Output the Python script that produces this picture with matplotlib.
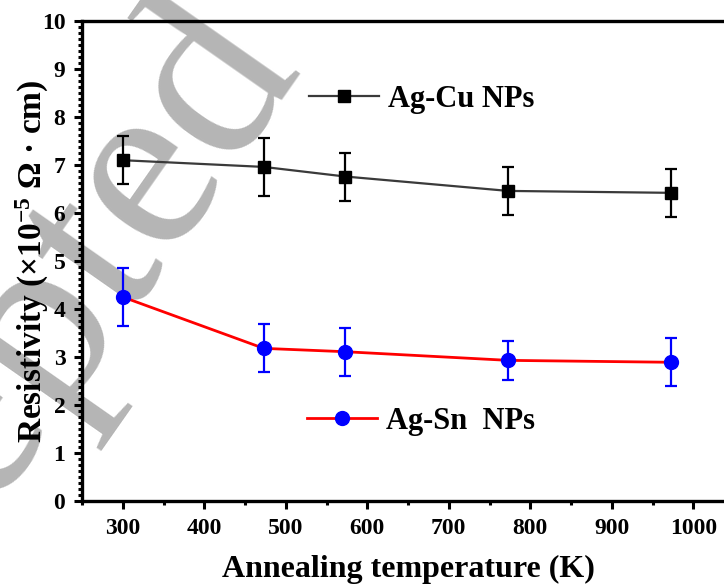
import matplotlib
matplotlib.use("Agg")
import matplotlib.pyplot as plt
from matplotlib.ticker import MultipleLocator, AutoMinorLocator
from matplotlib.lines import Line2D

plt.rcParams['font.family'] = ['Liberation Serif', 'DejaVu Serif']
plt.rcParams['font.weight'] = 'bold'
plt.rcParams['axes.labelweight'] = 'bold'
plt.rcParams['mathtext.fontset'] = 'custom'
plt.rcParams['mathtext.rm'] = 'Liberation Serif:bold'
plt.rcParams['mathtext.it'] = 'Liberation Serif:bold'
plt.rcParams['mathtext.bf'] = 'Liberation Serif:bold'
plt.rcParams['mathtext.default'] = 'rm'

################### Data ###################
temps = [300, 473, 573, 773, 973]
agcu = [7.10, 6.96, 6.76, 6.46, 6.42]
agcu_err = [0.50, 0.60, 0.50, 0.50, 0.50]
agsn = [4.25, 3.18, 3.11, 2.93, 2.89]
agsn_err = [0.60, 0.50, 0.50, 0.40, 0.50]
labels = ['Ag-Cu NPs', 'Ag-Sn  NPs']

################### Figure ###################
W, H = 724, 587
fig = plt.figure(figsize=(W / 100, H / 100), dpi=100)
ax = fig.add_axes([82 / W, 86 / H, 652 / W, 480 / H])
ax.set_facecolor('none')

# watermark behind everything
fig.text(-18 / W, 1 - 420 / H, 'Accepted', fontsize=180, rotation=55,
         color='#b5b5b5', fontweight='normal', ha='center', va='center',
         rotation_mode='anchor', zorder=-1)

ax.errorbar(temps, agcu, yerr=agcu_err, color='#3a3a3a', lw=1.6,
            marker='s', ms=9, mfc='black', mec='black',
            ecolor='black', elinewidth=1.6, capsize=4, capthick=1.6, zorder=3)
ax.errorbar(temps, agsn, yerr=agsn_err, color='red', lw=2,
            marker='o', ms=10, mfc='blue', mec='blue',
            ecolor='blue', elinewidth=1.6, capsize=4, capthick=1.6, zorder=3)

ax.set_xlim(250, 1050)
ax.set_ylim(0, 10)
ax.xaxis.set_major_locator(MultipleLocator(100))
ax.xaxis.set_minor_locator(MultipleLocator(50))
ax.yaxis.set_major_locator(MultipleLocator(1))
ax.yaxis.set_minor_locator(AutoMinorLocator(8))
ax.tick_params(which='major', direction='out', length=6, width=2.2, labelsize=17, pad=6)
ax.tick_params(which='minor', direction='out', length=3, width=2.2)
ax.tick_params(axis='x', which='both', top=False)
ax.tick_params(axis='y', which='both', right=False)
for s in ax.spines.values():
    s.set_linewidth(2.4)

ax.set_xlabel('Annealing temperature (K)', fontsize=23, labelpad=12)
ax.set_ylabel(r'Resistivity (×10$^{-5}$ Ω · cm)', fontsize=24)
ax.yaxis.set_label_coords(-0.047, 0.5)

h1 = Line2D([], [], color='#3a3a3a', lw=1.6, marker='s', ms=9, mfc='black', mec='black')
h2 = Line2D([], [], color='red', lw=2, marker='o', ms=10, mfc='blue', mec='blue')
leg1 = fig.legend([h1], [labels[0]], loc='center left', bbox_to_anchor=(309 / W, 1 - 99 / H),
                  frameon=False, fontsize=22, handlelength=2.3, handletextpad=0.3,
                  borderpad=0, borderaxespad=0)
leg2 = fig.legend([h2], [labels[1]], loc='center left', bbox_to_anchor=(307 / W, 1 - 421 / H),
                  frameon=False, fontsize=22, handlelength=2.3, handletextpad=0.3,
                  borderpad=0, borderaxespad=0)

fig.savefig('out.png', dpi=100)
